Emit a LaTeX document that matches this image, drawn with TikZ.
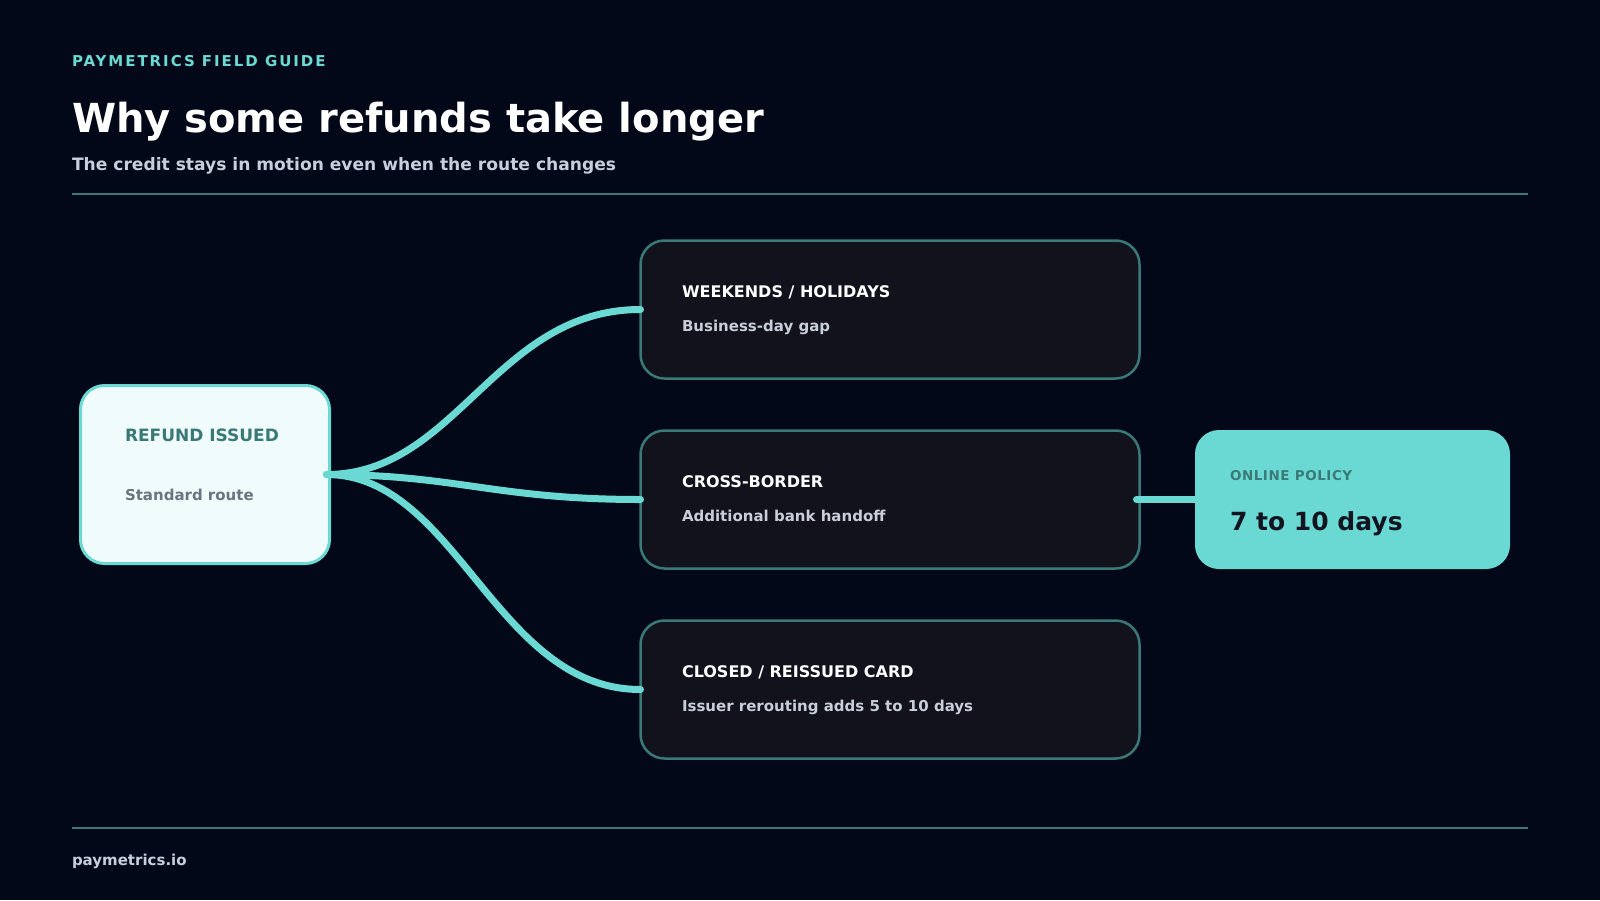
\documentclass[tikz,border=0pt]{standalone}
\usepackage{fontspec}
\setmainfont{DejaVu Sans}
\usepackage{tikz}
\usetikzlibrary{positioning, calc}
\definecolor{MyNight}{HTML}{020817}
\definecolor{MyTeal}{HTML}{6BD9D3}
\definecolor{MyDeep}{HTML}{3A7A76}
\definecolor{MyPanel}{HTML}{11121C}
\definecolor{MyMist}{HTML}{C9CFDA}
\definecolor{MySnow}{HTML}{EFFCFB}
\definecolor{MyGrey}{HTML}{6B7280}
\definecolor{MyInk}{HTML}{121420}
\def\SetPx#1{\fontsize{#1}{#1}\selectfont}

\begin{document}
\begin{tikzpicture}[x=1pt, y=-1pt,
		every node/.style={inner sep=0pt, outer sep=0pt, font=\bfseries},
		card/.style={draw=MyDeep, line width=2.5pt, fill=MyPanel, rounded corners=24pt, minimum width=499pt, minimum height=138pt},
		hub/.style={draw=MyTeal, line width=3pt, fill=MySnow, rounded corners=24pt, minimum width=249pt, minimum height=178pt},
		policy/.style={fill=MyTeal, rounded corners=24pt, minimum width=315pt, minimum height=139pt},
		link/.style={MyTeal, line width=7pt, line cap=round},
		rule/.style={MyDeep, line width=1.8pt},
		cardtitle/.style={anchor=base west, white, font=\bfseries\SetPx{16}},
		cardnote/.style={anchor=base west, MyMist, font=\bfseries\SetPx{15}}]
	\fill[MyNight] (0,0) rectangle (1600,900);
	
	% header
	\node[anchor=base west, MyTeal, font=\bfseries\SetPx{15}\addfontfeatures{LetterSpace=13}] (kicker) at (72,66) {PAYMETRICS FIELD GUIDE};
	\node[anchor=base west, white, font=\bfseries\SetPx{40}] (title) at (72,132) {Why some refunds take longer};
	\node[anchor=base west, MyMist, font=\bfseries\SetPx{17.1}] (subtitle) at (72,170) {The credit stays in motion even when the route changes};
	\draw[rule] (72,194) -- (1528,194);
	
	% boxes
	\node[hub] (refund) at (205,474.5) {};
	\node[anchor=base west, MyDeep, font=\bfseries\SetPx{17}] (refundTitle) at (125,441) {REFUND ISSUED};
	\node[anchor=base west, MyGrey, font=\bfseries\SetPx{15}] (refundNote) at (125,500) {Standard route};
	
	\node[card] (weekends) at (890,309.5) {};
	\node[cardtitle] (weekendsTitle) at (682,297) {WEEKENDS / HOLIDAYS};
	\node[cardnote] (weekendsNote) at (682,331) {Business-day gap};
	
	\node[card] (crossborder) at (890,499.5) {};
	\node[cardtitle] (crossborderTitle) at (682,487) {CROSS-BORDER};
	\node[cardnote] (crossborderNote) at (682,521) {Additional bank handoff};
	
	\node[card] (reissued) at (890,689.5) {};
	\node[cardtitle] (reissuedTitle) at (682,677) {CLOSED / REISSUED CARD};
	\node[cardnote] (reissuedNote) at (682,711) {Issuer rerouting adds 5 to 10 days};
	
	\node[policy] (policy) at (1352.5,499.5) {};
	\node[anchor=base west, MyDeep, font=\bfseries\SetPx{13.5}\addfontfeatures{LetterSpace=4}] (policyTitle) at (1230,480) {ONLINE POLICY};
	\node[anchor=base west, MyInk, font=\bfseries\SetPx{25}] (policyDays) at (1230,530) {7 to 10 days};
	
	% connectors
	\draw[link] ($(refund.east)+(-3,0)$) .. controls +(130,0) and +(-145,0) .. (weekends.west);
	\draw[link] ($(refund.east)+(-3,0)$) .. controls +(130,0) and +(-145,0) .. (crossborder.west);
	\draw[link] ($(refund.east)+(-3,0)$) .. controls +(130,0) and +(-145,0) .. (reissued.west);
	\draw[link] ($(crossborder.east)+(-3,0)$) -- (policy.west);
	
	% footer
	\draw[rule] (72,828) -- (1528,828);
	\node[anchor=base west, MyMist, font=\bfseries\SetPx{15}] (site) at (72,865) {paymetrics.io};
\end{tikzpicture}
\end{document}
